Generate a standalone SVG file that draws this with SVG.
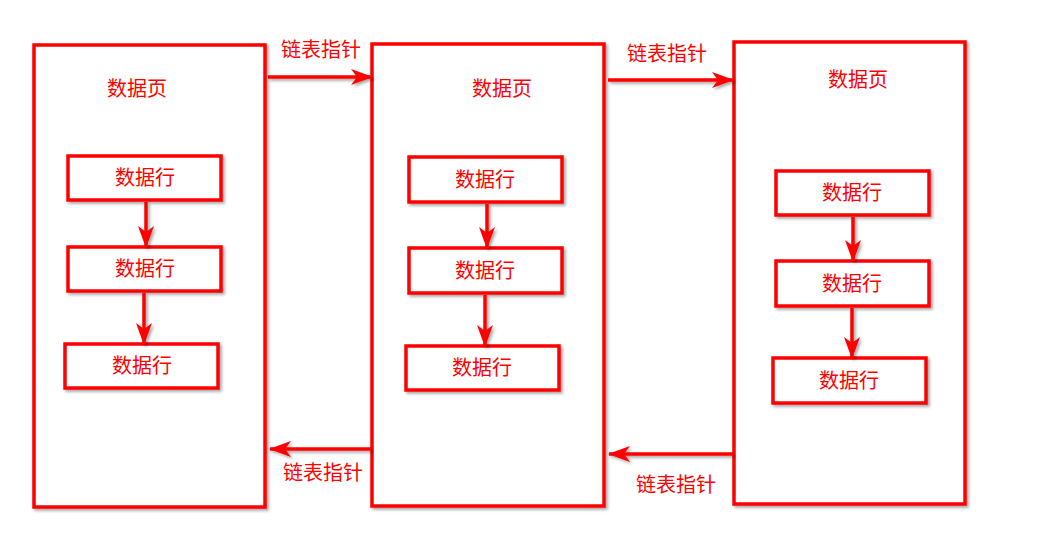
<svg xmlns="http://www.w3.org/2000/svg" width="1039" height="557" viewBox="0 0 1039 557">
<style>
.box{fill:#fff;stroke:#ff0000;stroke-width:3.5;filter:url(#sh)}
.t{font-family:"Liberation Sans","Noto Sans CJK SC",sans-serif;font-size:20px;fill:#ff0000;text-anchor:middle}
.c{stroke:#ff0000;stroke-width:3.5;fill:none;marker-end:url(#ah)}
</style>
<defs>
<filter id="sh" x="-20%" y="-20%" width="140%" height="140%">
<feDropShadow dx="2" dy="2" stdDeviation="1.5" flood-color="#000" flood-opacity="0.35"/>
</filter>
<filter id="shc" filterUnits="userSpaceOnUse" x="0" y="0" width="1039" height="557">
<feDropShadow dx="2" dy="2" stdDeviation="1.5" flood-color="#000" flood-opacity="0.35"/>
</filter>
<marker id="ah" viewBox="0 0 22 16" refX="21" refY="8" markerWidth="22" markerHeight="16" markerUnits="userSpaceOnUse" orient="auto">
<path d="M0,0 L22,8 L0,16 L6,8 Z" fill="#ff0000"/>
</marker>
</defs>
<rect width="1039" height="557" fill="#fff"/>
<g id="page1">
<rect class="box" x="34" y="45" width="231" height="462"/>
<text class="t" x="137" y="96">数据页</text>
</g>
<g id="page2">
<rect class="box" x="372" y="44" width="232" height="462"/>
<text class="t" x="502" y="96">数据页</text>
</g>
<g id="page3">
<rect class="box" x="734" y="42" width="231" height="462"/>
<text class="t" x="858" y="87">数据页</text>
</g>
<g id="p1r1"><rect class="box" x="68" y="156" width="153" height="44"/><text class="t" x="145" y="185">数据行</text></g>
<g id="p1r2"><rect class="box" x="68" y="247" width="153" height="44"/><text class="t" x="145" y="276">数据行</text></g>
<g id="p1r3"><rect class="box" x="65" y="344" width="153" height="44"/><text class="t" x="142" y="373">数据行</text></g>
<g id="p2r1"><rect class="box" x="409" y="157" width="153" height="45"/><text class="t" x="485" y="187">数据行</text></g>
<g id="p2r2"><rect class="box" x="409" y="248" width="153" height="45"/><text class="t" x="485" y="278">数据行</text></g>
<g id="p2r3"><rect class="box" x="406" y="346" width="153" height="44"/><text class="t" x="482" y="375">数据行</text></g>
<g id="p3r1"><rect class="box" x="776" y="171" width="153" height="44"/><text class="t" x="852" y="200">数据行</text></g>
<g id="p3r2"><rect class="box" x="776" y="261" width="153" height="45"/><text class="t" x="852" y="291">数据行</text></g>
<g id="p3r3"><rect class="box" x="773" y="358" width="153" height="45"/><text class="t" x="849" y="388">数据行</text></g>
<g id="connectors">
<g filter="url(#shc)">
<path class="c" d="M146,202 L146,247"/>
<path class="c" d="M144,293 L144,344"/>
<path class="c" d="M487,204 L487,248"/>
<path class="c" d="M485,295 L485,346"/>
<path class="c" d="M853,217 L853,261"/>
<path class="c" d="M852,308 L852,358"/>
<path class="c" d="M268,77 L372,77"/>
<path class="c" d="M608,80 L733,80"/>
<path class="c" d="M371,449 L270,449"/>
<path class="c" d="M733,454 L609,454"/>
</g>
<text class="t" x="321" y="57">链表指针</text>
<text class="t" x="667" y="61">链表指针</text>
<text class="t" x="323" y="480">链表指针</text>
<text class="t" x="676" y="492">链表指针</text>
</g>
</svg>
